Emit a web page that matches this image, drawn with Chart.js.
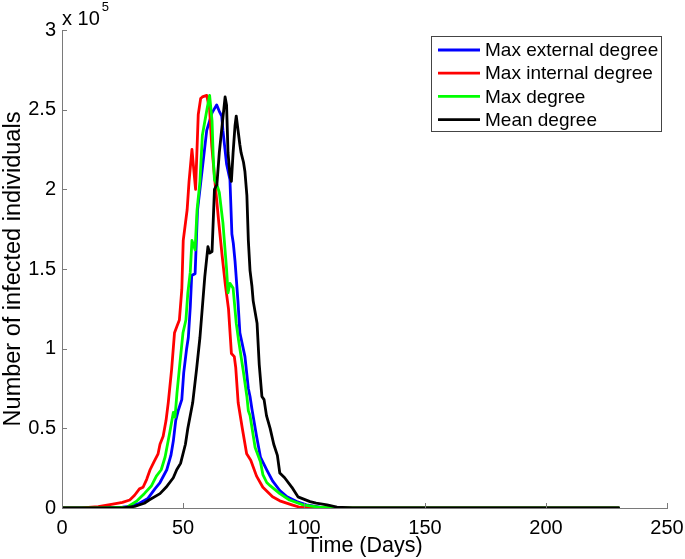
<!DOCTYPE html>
<html>
<head>
<meta charset="utf-8">
<script src="https://cdn.jsdelivr.net/npm/chart.js@4.4.1/dist/chart.umd.min.js"></script>
<style>
  html, body { margin: 0; padding: 0; background: #ffffff; }
  #wrap { width: 685px; height: 559px; position: relative; }
</style>
</head>
<body>
<div id="wrap"><canvas id="c" width="685" height="559"></canvas></div>
<script>
// ---- data (values in units of 10^5 infected individuals) ----
const seriesNames = ['Max external degree', 'Max internal degree', 'Max degree', 'Mean degree'];
const seriesColors = ['#0000ff', '#ff0000', '#00ff00', '#000000'];

const externalDays = [0, 15, 25, 28, 32, 35.5, 38.4, 40.5, 43.3, 45, 46, 47, 48, 49.5, 50.3, 51.5, 52.2, 53, 53.6, 55, 56, 57, 59.8, 62, 63.9, 65, 66, 66.5, 68, 69.4, 70.2, 70.8, 71.5, 72.7, 73.5, 75.6, 77, 77.7, 78.5, 80.4, 82, 84.6, 87, 90, 93, 97, 101, 106.6, 112, 230];
const externalVals = [0, 0, 0.005, 0.01, 0.03, 0.06, 0.12, 0.16, 0.24, 0.33, 0.42, 0.55, 0.61, 0.68, 0.85, 1.00, 1.07, 1.26, 1.46, 1.47, 1.87, 2.00, 2.37, 2.48, 2.53, 2.49, 2.46, 2.37, 2.16, 2.06, 1.72, 1.66, 1.55, 1.30, 1.10, 0.95, 0.75, 0.70, 0.62, 0.45, 0.32, 0.24, 0.17, 0.11, 0.07, 0.04, 0.02, 0.006, 0, 0];

const internalDays = [0, 8, 15, 21, 25, 28, 30, 32, 33.5, 35, 36.4, 38, 39.7, 40.5, 41.8, 43, 43.9, 45.3, 46.5, 47.5, 48.5, 49.5, 50.1, 51.7, 52.5, 53.7, 55.2, 56.3, 57.3, 58, 59.8, 61, 61.9, 63.5, 64.8, 66.2, 67.5, 68.8, 70, 71.2, 71.8, 72.8, 74.5, 76.3, 78, 80.4, 83, 87, 90, 95, 98, 105, 230];
const internalVals = [0, 0, 0.008, 0.025, 0.035, 0.05, 0.08, 0.12, 0.13, 0.18, 0.24, 0.29, 0.34, 0.40, 0.45, 0.55, 0.66, 0.87, 1.10, 1.14, 1.18, 1.37, 1.68, 1.87, 2.05, 2.25, 2.00, 2.47, 2.57, 2.58, 2.59, 2.50, 2.27, 2.00, 1.79, 1.58, 1.40, 1.25, 0.97, 0.95, 0.88, 0.66, 0.50, 0.34, 0.30, 0.20, 0.13, 0.07, 0.045, 0.02, 0.006, 0, 0];

const maxDegDays = [0, 15, 27, 31, 34, 37, 39, 41, 42.6, 44.6, 46, 46.7, 47.5, 48.8, 50, 51.2, 52, 53, 53.7, 55, 55.8, 57, 58, 60, 61, 62, 62.5, 63, 64, 65, 66.5, 68, 68.6, 69.4, 70.7, 72, 73, 75, 76.4, 77, 77.7, 79.8, 82, 83, 84.6, 86, 90, 94, 99.6, 106, 112, 230];
const maxDegVals = [0, 0, 0.006, 0.045, 0.09, 0.14, 0.20, 0.24, 0.32, 0.48, 0.60, 0.57, 0.72, 0.92, 1.10, 1.18, 1.35, 1.48, 1.68, 1.62, 1.87, 2.05, 2.34, 2.51, 2.59, 2.43, 2.20, 2.06, 2.03, 1.98, 1.79, 1.50, 1.35, 1.41, 1.38, 1.16, 1.05, 0.85, 0.70, 0.61, 0.58, 0.38, 0.29, 0.21, 0.16, 0.14, 0.09, 0.05, 0.02, 0.005, 0, 0];

const meanDegDays = [0, 25, 30, 34, 36, 40.5, 43, 46, 47.4, 49, 51, 52, 53, 54, 55.6, 57, 58, 59, 60.3, 61, 62, 63, 64, 65, 66.5, 67.4, 68, 68.6, 69.4, 70, 70.7, 71.5, 72, 73.5, 74, 75, 75.6, 76.4, 77, 77.7, 78.5, 79, 80.6, 81.5, 82.6, 83.5, 84.5, 86, 87.5, 89, 90, 92, 95, 97.5, 102.5, 105, 109.5, 113.6, 120, 230];
const meanDegVals = [0, 0, 0.01, 0.03, 0.05, 0.09, 0.13, 0.19, 0.24, 0.28, 0.40, 0.50, 0.58, 0.66, 0.87, 1.07, 1.26, 1.45, 1.64, 1.60, 1.61, 2.00, 2.03, 2.23, 2.45, 2.58, 2.53, 2.23, 2.09, 2.05, 2.23, 2.40, 2.46, 2.28, 2.23, 2.17, 2.11, 1.96, 1.68, 1.49, 1.39, 1.30, 1.16, 0.90, 0.70, 0.68, 0.58, 0.50, 0.40, 0.33, 0.22, 0.19, 0.13, 0.07, 0.04, 0.03, 0.02, 0.006, 0, 0];

const xTickValues = [0, 50, 100, 150, 200, 250];
const yTickLabels = ['0', '0.5', '1', '1.5', '2', '2.5', '3'];
const xTitle = 'Time (Days)';
const yTitle = 'Number of infected individuals';
const multiplierBase = 'x 10';
const multiplierExp = '5';

// ---- build datasets ----
function pts(days, vals) { return days.map((d, i) => ({ x: d, y: vals[i] })); }
const allDays = [externalDays, internalDays, maxDegDays, meanDegDays];
const allVals = [externalVals, internalVals, maxDegVals, meanDegVals];
const datasets = seriesNames.map((name, i) => ({
  label: name,
  data: pts(allDays[i], allVals[i]),
  borderColor: seriesColors[i],
  backgroundColor: seriesColors[i],
  borderWidth: 2.8,
  pointRadius: 0,
  tension: 0,
  fill: false,
  borderJoinStyle: 'round',
  borderCapStyle: 'round',
  order: 4 - i
}));

const FONT = "'Liberation Sans', Arial, Helvetica, sans-serif";

const extras = {
  id: 'extras',
  afterDatasetsDraw(chart) {
    const ctx = chart.ctx;
    const xs = chart.scales.x, ys = chart.scales.y;
    const ca = chart.chartArea;
    ctx.save();
    // inward tick marks
    ctx.strokeStyle = '#7a7a7a';
    ctx.lineWidth = 1;
    ctx.beginPath();
    xs.ticks.forEach(t => {
      const px = Math.round(xs.getPixelForValue(t.value)) + 0.5;
      ctx.moveTo(px, ca.bottom);
      ctx.lineTo(px, ca.bottom - 5);
    });
    ys.ticks.forEach(t => {
      const py = Math.round(ys.getPixelForValue(t.value)) + 0.5;
      ctx.moveTo(ca.left, py);
      ctx.lineTo(ca.left + 5, py);
    });
    ctx.stroke();

    // multiplier label
    ctx.fillStyle = '#000';
    ctx.textBaseline = 'alphabetic';
    ctx.textAlign = 'left';
    ctx.font = '20px ' + FONT;
    ctx.fillText(multiplierBase, ca.left, 25);
    const w = ctx.measureText(multiplierBase).width;
    ctx.font = '13px ' + FONT;
    ctx.fillText(multiplierExp, ca.left + w + 2, 11);

    // legend box
    const bx = 431.5, by = 36.5, bw = 230, bh = 95;
    ctx.fillStyle = '#ffffff';
    ctx.fillRect(bx, by, bw, bh);
    ctx.strokeStyle = '#444';
    ctx.lineWidth = 1;
    ctx.strokeRect(bx, by, bw, bh);
    ctx.font = '19px ' + FONT;
    ctx.textBaseline = 'middle';
    chart.data.datasets.forEach((ds, i) => {
      const yy = 50 + i * 23.2;
      ctx.strokeStyle = ds.borderColor;
      ctx.lineWidth = 2.8;
      ctx.beginPath();
      ctx.moveTo(438, yy);
      ctx.lineTo(480, yy);
      ctx.stroke();
      ctx.fillStyle = '#000';
      ctx.fillText(ds.label, 485, yy + 1);
    });
    ctx.restore();
  }
};

new Chart(document.getElementById('c'), {
  type: 'line',
  data: { datasets },
  options: {
    responsive: false,
    animation: false,
    devicePixelRatio: 1,
    layout: { padding: { left: 0, right: 18, top: 30, bottom: 0 } },
    plugins: { legend: { display: false }, tooltip: { enabled: false } },
    scales: {
      x: {
        type: 'linear',
        min: 0, max: 250,
        afterFit: s => { s.height = 51; s.paddingLeft = 0; s.paddingRight = 0; },
        afterBuildTicks: s => { s.ticks = xTickValues.map(v => ({ value: v })); },
        ticks: { color: '#000', font: { family: FONT, size: 20 }, padding: 8, maxRotation: 0, autoSkip: false, callback: v => String(v) },
        grid: { display: false, drawTicks: false },
        border: { display: true, color: '#7a7a7a', width: 1 },
        title: { display: true, text: xTitle, color: '#000', font: { family: FONT, size: 21.5 }, padding: { top: 0, bottom: 0 } }
      },
      y: {
        type: 'linear',
        min: 0, max: 3,
        afterFit: s => { s.width = 62; s.paddingTop = 0; s.paddingBottom = 0; },
        ticks: { stepSize: 0.5, color: '#000', font: { family: FONT, size: 20 }, padding: 6, callback: (v) => yTickLabels[Math.round(v * 2)] },
        grid: { display: false, drawTicks: false },
        border: { display: true, color: '#7a7a7a', width: 1 },
        title: { display: true, text: yTitle, color: '#000', font: { family: FONT, size: 23.5 }, padding: { top: -1, bottom: 0 } }
      }
    }
  },
  plugins: [extras]
});
</script>
</body>
</html>
